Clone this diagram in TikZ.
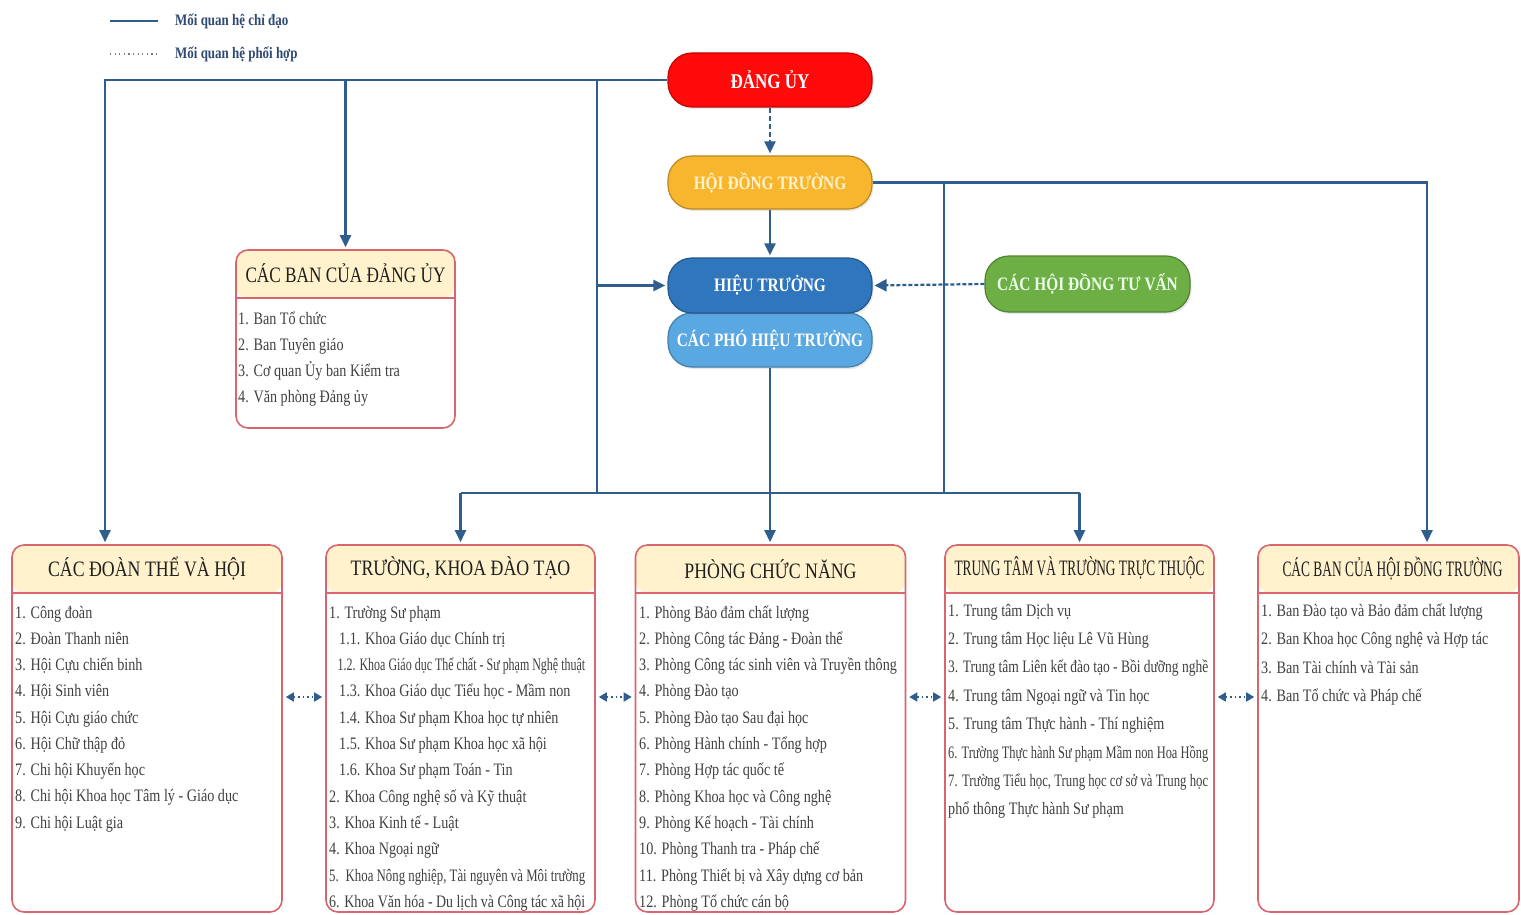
\documentclass[tikz,border=0pt]{standalone}
\usepackage{fontspec}
\setmainfont{Liberation Serif}[FakeStretch=0.81]
\usepackage{graphicx}
\usetikzlibrary{arrows.meta,calc,shadows}

\definecolor{lineblue}{HTML}{2F5E8E}
\definecolor{boxred}{HTML}{D9666F}
\definecolor{hdrfill}{HTML}{FFF2CC}
\definecolor{txtgray}{HTML}{404040}
\definecolor{hdrtxt}{HTML}{1F1F1F}
\definecolor{legtxt}{HTML}{2F4A70}
\definecolor{cRed}{HTML}{FF0A0A}
\definecolor{cOrange}{HTML}{F8B62E}
\definecolor{cBlue}{HTML}{2F76BC}
\definecolor{cLBlue}{HTML}{5AA8E2}
\definecolor{cGreen}{HTML}{6DAE45}

\newsavebox\fitbox
\newcommand\fitto[2]{\sbox\fitbox{#2}\ifdim\wd\fitbox>#1\relax\resizebox{#1}{\height}{\usebox\fitbox}\else\usebox\fitbox\fi}

\tikzset{
  main/.style={lineblue, line width=2.4pt},
  arr/.style={main, -{Triangle[width=11pt,length=12pt]}, shorten >=2pt},
  dasharr/.style={lineblue, line width=2.2pt, dash pattern=on 5pt off 3pt, -{Triangle[width=11pt,length=12pt]}, shorten >=2pt},
  coarr/.style={lineblue, line width=2.2pt, dash pattern=on 4pt off 2pt, -{Triangle[width=12pt,length=12pt]}, shorten >=2pt},
  biarr/.style={lineblue, line width=1.6pt, dash pattern=on 1.6pt off 3pt, {Triangle[width=9pt,length=8pt]}-{Triangle[width=9pt,length=8pt]}, shorten >=3pt, shorten <=3pt},
  pill/.style={rounded corners=24pt, minimum width=204pt, minimum height=54pt, inner sep=0pt,
    draw=#1!75!black, fill=#1, line width=1.2pt, text=white,
    drop shadow={opacity=0.18, shadow xshift=1.5pt, shadow yshift=-2pt},
    font=\bfseries\fontsize{19}{20}\selectfont},
  panel/.style={draw=boxred, line width=1.6pt, rounded corners=12pt, inner sep=0pt, fill=white,
    path picture={\fill[hdrfill] (path picture bounding box.north west) rectangle ([yshift=-48pt]path picture bounding box.north east);
      \draw[boxred, line width=1.6pt] ([yshift=-48pt]path picture bounding box.north west) -- ([yshift=-48pt]path picture bounding box.north east);}},
  hdr/.style={inner sep=0pt, text=hdrtxt, font=\fontsize{22}{24}\selectfont},
  item/.style={inner sep=0pt, text=txtgray, font=\fontsize{17.5}{20}\selectfont},
  legtext/.style={inner sep=0pt, text=legtxt, font=\bfseries\fontsize{16}{18}\selectfont, anchor=west},
}

\newcommand\itemlist[6]{%
  \foreach \t [count=\i] in {#6} {%
    \node[item, anchor=base west] (#1-\i) at (#2, {#3+(\i-1)*#4}) {\fitto{#5pt}{\t}};
  }%
}

\begin{document}
\begin{tikzpicture}[x=1pt,y=-1pt]
\fill[white] (0,0) rectangle (1521,915);
\useasboundingbox (0,0) rectangle (1521,915);

% legend
\coordinate (l1a) at (110,21);
\coordinate (l1b) at (158,21);
\coordinate (l2a) at (110,54);
\coordinate (l2b) at (158,54);
\draw[lineblue, line width=2pt] (l1a) -- (l1b);
\draw[gray, line width=1.2pt, dash pattern=on 1.2pt off 3.4pt] (l2a) -- (l2b);
\node[legtext] (lt1) at (175,21) {Mối quan hệ chỉ đạo};
\node[legtext] (lt2) at (175,54) {Mối quan hệ phối hợp};

% pills
\node[pill=cRed, font=\bfseries\fontsize{21}{22}\selectfont] (dangu) at (770,80) {ĐẢNG ỦY};
\node[pill=cOrange, minimum height=53pt, text=hdrfill] (hdt) at (770,182.5) {HỘI ĐỒNG TRƯỜNG};
\node[pill=cLBlue] (pht) at (770,340) {CÁC PHÓ HIỆU TRƯỞNG};
\node[pill=cBlue, minimum height=55pt] (ht) at (770,285.5) {HIỆU TRƯỞNG};
\node[pill=cGreen, minimum width=205pt, minimum height=56pt, text=white!92!green] (tuvan) at (1087.5,284) {CÁC HỘI ĐỒNG TƯ VẤN};

% panels
\node[panel, minimum width=219pt, minimum height=178pt] (banDU) at (345.5,339) {};
\node[panel, minimum width=270pt, minimum height=367pt] (b1) at (147,728.5) {};
\node[panel, minimum width=269pt, minimum height=367pt] (b2) at (460.5,728.5) {};
\node[panel, minimum width=270pt, minimum height=367pt] (b3) at (770.5,728.5) {};
\node[panel, minimum width=269pt, minimum height=367pt] (b4) at (1079.5,728.5) {};
\node[panel, minimum width=261pt, minimum height=367pt] (b5) at (1388.5,728.5) {};

% headers
\node[hdr] (banDUh) at ($(banDU.north)+(0,24)$) {\fitto{200pt}{CÁC BAN CỦA ĐẢNG ỦY}};
\node[hdr] (b1h) at ($(b1.north)+(0,24)$) {\fitto{250pt}{CÁC ĐOÀN THỂ VÀ HỘI}};
\node[hdr] (b2h) at ($(b2.north)+(0,24)$) {\fitto{250pt}{TRƯỜNG, KHOA ĐÀO TẠO}};
\node[hdr] (b3h) at ($(b3.north)+(0,25)$) {\fitto{250pt}{PHÒNG CHỨC NĂNG}};
\node[hdr] (b4h) at ($(b4.north)+(0,24)$) {\fitto{250pt}{TRUNG TÂM VÀ TRƯỜNG TRỰC THUỘC}};
\node[hdr] (b5h) at ($(b5.north)+(4,24)$) {\fitto{220pt}{CÁC BAN CỦA HỘI ĐỒNG TRƯỜNG}};

% lists
\itemlist{du}{238}{324}{26.2}{210}{1. Ban Tổ chức, 2. Ban Tuyên giáo, 3. Cơ quan Ủy ban Kiểm tra, 4. Văn phòng Đảng ủy}
\itemlist{l1}{15}{618}{26.25}{262}{1. Công đoàn, 2. Đoàn Thanh niên, 3. Hội Cựu chiến binh, 4. Hội Sinh viên, 5. Hội Cựu giáo chức, 6. Hội Chữ thập đỏ, 7. Chi hội Khuyến học, 8. Chi hội Khoa học Tâm lý - Giáo dục, 9. Chi hội Luật gia}
\itemlist{l2}{329}{618}{26.3}{256}{1. Trường Sư phạm, \hspace*{10pt}1.1. Khoa Giáo dục Chính trị, \hspace*{10pt}1.2. Khoa Giáo dục Thể chất - Sư phạm Nghệ thuật, \hspace*{10pt}1.3. Khoa Giáo dục Tiểu học - Mầm non, \hspace*{10pt}1.4. Khoa Sư phạm Khoa học tự nhiên, \hspace*{10pt}1.5. Khoa Sư phạm Khoa học xã hội, \hspace*{10pt}1.6. Khoa Sư phạm Toán - Tin, 2. Khoa Công nghệ số và Kỹ thuật, 3. Khoa Kinh tế - Luật, 4. Khoa Ngoại ngữ, {5. \,Khoa Nông nghiệp, Tài nguyên và Môi trường}, 6. Khoa Văn hóa - Du lịch và Công tác xã hội}
\itemlist{l3}{639}{618}{26.3}{262}{1. Phòng Bảo đảm chất lượng, 2. Phòng Công tác Đảng - Đoàn thể, 3. Phòng Công tác sinh viên và Truyền thông, 4. Phòng Đào tạo, 5. Phòng Đào tạo Sau đại học, 6. Phòng Hành chính - Tổng hợp, 7. Phòng Hợp tác quốc tế, 8. Phòng Khoa học và Công nghệ, 9. Phòng Kế hoạch - Tài chính, 10. Phòng Thanh tra - Pháp chế, 11. Phòng Thiết bị và Xây dựng cơ bản, 12. Phòng Tổ chức cán bộ}
\itemlist{l4}{948}{616}{28.4}{260}{1. Trung tâm Dịch vụ, 2. Trung tâm Học liệu Lê Vũ Hùng, 3. Trung tâm Liên kết đào tạo - Bồi dưỡng nghề, 4. Trung tâm Ngoại ngữ và Tin học, 5. Trung tâm Thực hành - Thí nghiệm, 6. Trường Thực hành Sư phạm Mầm non Hoa Hồng, {7. Trường Tiểu học, Trung học cơ sở và Trung học}, phổ thông Thực hành Sư phạm}
\itemlist{l5}{1261}{616}{28.6}{250}{1. Ban Đào tạo và Bảo đảm chất lượng, 2. Ban Khoa học Công nghệ và Hợp tác, 3. Ban Tài chính và Tài sản, 4. Ban Tổ chức và Pháp chế}

% reference coordinates
\coordinate (xl) at (105,0);
\coordinate (xm) at (597,0);
\coordinate (xh) at (944,0);
\coordinate (xr) at (1427,0);
\coordinate (bus) at (0,493);
\coordinate (cy) at (0,697);

% connectors
\draw[arr] (dangu.west) -- (xl |- dangu.west) -- (xl |- b1.north);
\draw[arr] (dangu.west -| banDU.north) -- (banDU.north);
\draw[main] (dangu.west -| xm) -- (xm |- bus);
\draw[arr] (xm |- ht.west) -- (ht.west);
\draw[main] (b2.north |- bus) -- (b4.north |- bus);
\draw[arr] (b2.north |- bus) -- (b2.north);
\draw[arr] (b4.north |- bus) -- (b4.north);
\draw[arr] (pht.south) -- (pht.south |- b3.north);
\draw[arr] (hdt.east) -- (xr |- hdt.east) -- (xr |- b5.north);
\draw[main] (xh |- hdt.east) -- (xh |- bus);
\draw[dasharr] (dangu.south) -- (hdt.north);
\draw[arr] (hdt.south) -- (ht.north);
\draw[coarr] (tuvan.west) -- (ht.east);

\draw[biarr] (b1.east |- cy) -- (b2.west |- cy);
\draw[biarr] (b2.east |- cy) -- (b3.west |- cy);
\draw[biarr] (b3.east |- cy) -- (b4.west |- cy);
\draw[biarr] (b4.east |- cy) -- (b5.west |- cy);
\end{tikzpicture}
\end{document}
